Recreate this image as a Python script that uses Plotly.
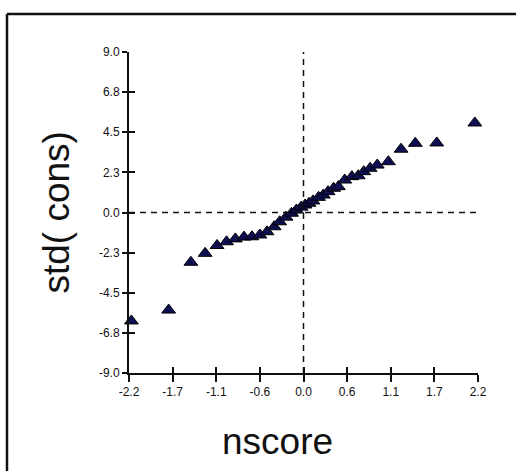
import plotly.graph_objects as go

# Data (normal scores vs standardized values)
nscore = [-2.17, -1.70, -1.42, -1.24, -1.09, -0.97, -0.86, -0.75, -0.65, -0.55,
          -0.46, -0.37, -0.30, -0.22, -0.15, -0.09, -0.03, 0.02, 0.07, 0.12,
          0.19, 0.25, 0.31, 0.38, 0.44, 0.52, 0.61, 0.69, 0.76, 0.84,
          0.93, 1.07, 1.23, 1.41, 1.68, 2.16]
std_cons = [-6.08, -5.47, -2.79, -2.29, -1.85, -1.64, -1.48, -1.38, -1.36, -1.26,
            -1.08, -0.80, -0.52, -0.26, -0.04, 0.14, 0.30, 0.42, 0.52, 0.65,
            0.85, 0.98, 1.17, 1.36, 1.45, 1.82, 2.01, 2.06, 2.29, 2.48,
            2.66, 2.85, 3.55, 3.88, 3.90, 5.02]

x_tickvals = [-2.2, -1.65, -1.1, -0.55, 0.0, 0.55, 1.1, 1.65, 2.2]
x_ticktext = ["-2.2", "-1.7", "-1.1", "-0.6", "0.0", "0.6", "1.1", "1.7", "2.2"]
y_tickvals = [-9.0, -6.75, -4.5, -2.25, 0.0, 2.25, 4.5, 6.75, 9.0]
y_ticktext = ["-9.0", "-6.8", "-4.5", "-2.3", "0.0", "2.3", "4.5", "6.8", "9.0"]
x_range = [-2.2, 2.2]
y_range = [-9.0, 9.0]

W, H = 516, 471
L, R, T, B = 129, 38, 52, 98
pw, ph = W - L - R, H - T - B

fig = go.Figure()
fig.add_trace(go.Scatter(
    x=nscore, y=std_cons, mode="markers",
    marker=dict(symbol="triangle-up", size=12, color="#0e0e52",
                line=dict(color="#000000", width=1)),
    cliponaxis=False, showlegend=False, hoverinfo="x+y"))
# invisible trace for overlay axes (inside tick halves)
fig.add_trace(go.Scatter(x=[x_range[0]], y=[y_range[0]], xaxis="x2", yaxis="y2",
                         mode="markers", marker=dict(opacity=0), showlegend=False,
                         hoverinfo="skip"))

tickfont = dict(family="Liberation Sans, Arial", size=12, color="#111111")
fig.update_layout(
    width=W, height=H, margin=dict(l=L, r=R, t=T, b=B),
    paper_bgcolor="white", plot_bgcolor="white",
    xaxis=dict(range=x_range, tickvals=x_tickvals, ticktext=x_ticktext,
               ticks="outside", ticklen=7, tickwidth=1.5, tickcolor="#111",
               showline=True, linewidth=2, linecolor="#111", showgrid=False,
               zeroline=False, tickfont=tickfont, fixedrange=True),
    yaxis=dict(range=y_range, tickvals=y_tickvals, ticktext=y_ticktext,
               ticks="outside", ticklen=5, tickwidth=1.5, tickcolor="#111",
               showline=True, linewidth=2, linecolor="#111", showgrid=False,
               zeroline=False, tickfont=tickfont, fixedrange=True),
    xaxis2=dict(range=x_range, tickvals=x_tickvals, overlaying="x", anchor="y2",
                side="bottom", ticks="inside", ticklen=6, tickwidth=1.5,
                tickcolor="#111", showticklabels=False, showgrid=False,
                zeroline=False, showline=False),
    yaxis2=dict(range=y_range, tickvals=y_tickvals, overlaying="y", anchor="x2",
                side="left", ticks="inside", ticklen=6, tickwidth=1.5,
                tickcolor="#111", showticklabels=False, showgrid=False,
                zeroline=False, showline=False),
)

# dashed reference lines at zero
fig.add_shape(type="line", xref="x", yref="y", x0=0, x1=0, y0=y_range[0], y1=y_range[1],
              line=dict(color="#111", width=1.5, dash="6px,5px"))
fig.add_shape(type="line", xref="x", yref="y", x0=x_range[0], x1=x_range[1], y0=0, y1=0,
              line=dict(color="#111", width=1.5, dash="6px,5px"))

# outer frame: top and left edges only, ending at the figure edges
fx0 = (7 - L) / pw
fy1 = 1 + (T - 14) / ph
fx1 = (W - L) / pw
fy0 = -B / ph
fig.add_shape(type="line", xref="paper", yref="paper", x0=fx0, x1=fx1, y0=fy1, y1=fy1,
              line=dict(color="#111", width=2.5), layer="below")
fig.add_shape(type="line", xref="paper", yref="paper", x0=fx0, x1=fx0, y0=fy0, y1=fy1,
              line=dict(color="#111", width=2.5), layer="below")

# axis titles
fig.add_annotation(text="nscore", xref="paper", yref="paper",
                   x=(277 - L) / pw, y=-(441 - T - ph) / ph, showarrow=False,
                   xanchor="center", yanchor="middle",
                   font=dict(family="Liberation Sans, Arial", size=37, color="#111"))
fig.add_annotation(text="std( cons)", xref="paper", yref="paper",
                   x=(56 - L) / pw, y=0.5, showarrow=False, textangle=-90,
                   xanchor="center", yanchor="middle",
                   font=dict(family="Liberation Sans, Arial", size=37, color="#111"))

fig.write_html("out.html")
